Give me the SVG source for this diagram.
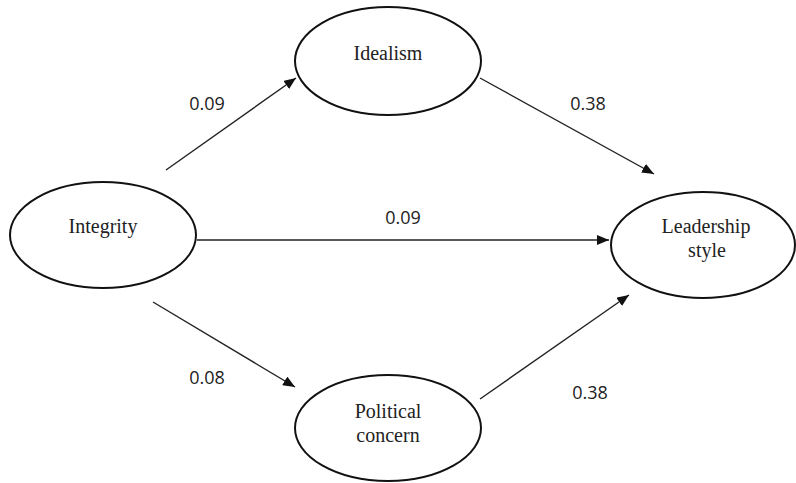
<svg xmlns="http://www.w3.org/2000/svg" width="796" height="483" viewBox="0 0 796 483">
<style>
.node ellipse{fill:#fff;stroke:#111;stroke-width:2}
.node text{font-family:"Liberation Serif","DejaVu Serif",serif;font-size:20px;fill:#222;text-anchor:middle}
.edge line{stroke:#222;stroke-width:1.4;marker-end:url(#ah)}
.lbl{font-family:"Open Sans","Liberation Sans",sans-serif;font-size:18px;fill:#222;text-anchor:middle}
</style>
<defs>
<marker id="ah" viewBox="0 0 12 10" refX="12" refY="5" markerWidth="12" markerHeight="10" markerUnits="userSpaceOnUse" orient="auto">
<path d="M0,0 L12,5 L0,10 Z" fill="#111"/>
</marker>
</defs>
<rect width="796" height="483" fill="#fff"/>
<g id="connectors" class="edge">
<line x1="166" y1="170" x2="296" y2="78"/>
<line x1="480" y1="78" x2="654" y2="174"/>
<line x1="197" y1="240" x2="609" y2="240"/>
<line x1="153" y1="302" x2="295" y2="387"/>
<line x1="480" y1="399" x2="629" y2="295"/>
<text class="lbl" x="207" y="110">0.09</text>
<text class="lbl" x="588" y="110">0.38</text>
<text class="lbl" x="403" y="224">0.09</text>
<text class="lbl" x="207" y="384">0.08</text>
<text class="lbl" x="590" y="399">0.38</text>
</g>
<g id="idealism" class="node">
<ellipse cx="388" cy="61" rx="93" ry="54"/>
<text x="388" y="60">Idealism</text>
</g>
<g id="integrity" class="node">
<ellipse cx="103" cy="235" rx="93" ry="53"/>
<text x="103" y="233">Integrity</text>
</g>
<g id="leadership" class="node">
<ellipse cx="703" cy="245" rx="92" ry="53"/>
<text x="706" y="233">Leadership</text>
<text x="707" y="257">style</text>
</g>
<g id="political" class="node">
<ellipse cx="388" cy="428" rx="93" ry="53"/>
<text x="388" y="418">Political</text>
<text x="388" y="442">concern</text>
</g>
</svg>
